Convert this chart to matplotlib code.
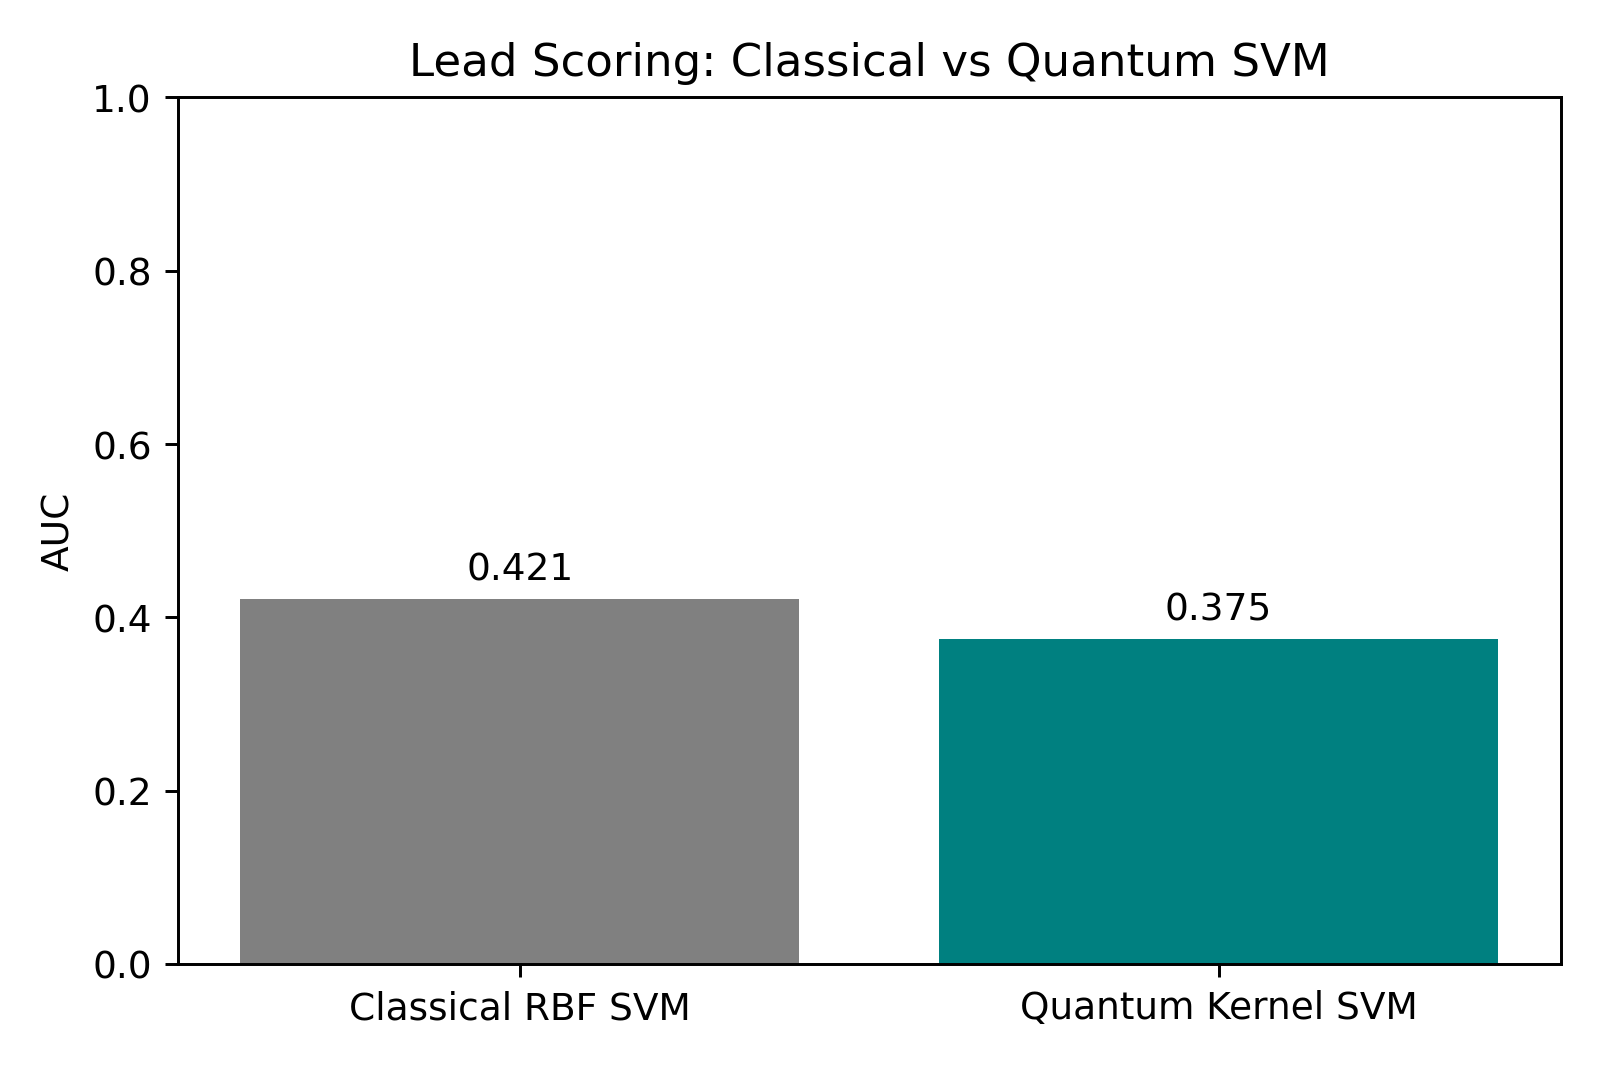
import matplotlib
matplotlib.use("Agg")
import matplotlib.pyplot as plt

models = ["Classical RBF SVM", "Quantum Kernel SVM"]
auc = [0.421, 0.375]
colors = ["gray", "teal"]

plt.rcParams["font.size"] = 10.15
fig = plt.figure(figsize=(6, 4), dpi=1600/6)
ax = fig.add_axes([0.111, 0.0958, 0.8646, 0.8122])
bars = ax.bar(models, auc, color=colors)
ax.bar_label(bars, labels=[f"{v:.3f}" for v in auc], padding=3)
ax.set_ylim(0, 1)
ax.set_ylabel("AUC")
ax.set_title("Lead Scoring: Classical vs Quantum SVM")
fig.savefig("out.png", dpi=1600/6)
